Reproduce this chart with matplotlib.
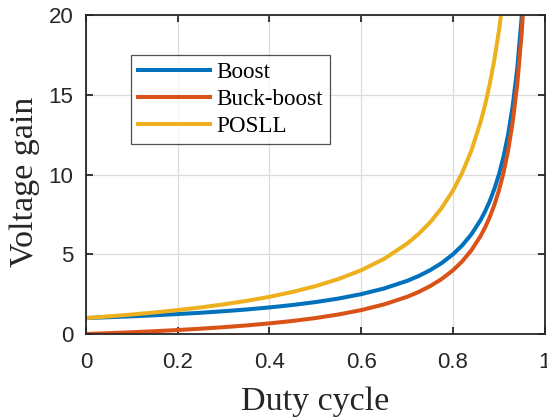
import matplotlib
matplotlib.use("Agg")
import matplotlib.pyplot as plt

# Duty cycle samples and gains
duty = [0, 0.05, 0.1, 0.15, 0.2, 0.25, 0.3, 0.35, 0.4, 0.45, 0.5, 0.55, 0.6,
        0.65, 0.7, 0.725, 0.75, 0.775, 0.8, 0.82, 0.84, 0.86, 0.87, 0.88,
        0.89, 0.9, 0.91, 0.92, 0.93, 0.94, 0.95, 0.96]
boost = [1.0, 1.053, 1.111, 1.176, 1.25, 1.333, 1.429, 1.538, 1.667, 1.818,
         2.0, 2.222, 2.5, 2.857, 3.333, 3.636, 4.0, 4.444, 5.0, 5.556, 6.25,
         7.143, 7.692, 8.333, 9.091, 10.0, 11.11, 12.5, 14.29, 16.67, 20.0, 25.0]
buck_boost = [0.0, 0.053, 0.111, 0.176, 0.25, 0.333, 0.429, 0.538, 0.667,
              0.818, 1.0, 1.222, 1.5, 1.857, 2.333, 2.636, 3.0, 3.444, 4.0,
              4.556, 5.25, 6.143, 6.692, 7.333, 8.091, 9.0, 10.11, 11.5,
              13.29, 15.67, 19.0, 24.0]
posll = [1.0, 1.105, 1.222, 1.353, 1.5, 1.667, 1.857, 2.077, 2.333, 2.636,
         3.0, 3.444, 4.0, 4.714, 5.667, 6.273, 7.0, 7.889, 9.0, 10.11, 11.5,
         13.29, 14.38, 15.67, 17.18, 19.0, 21.22, 24.0, 27.57, 32.33, 39.0, 49.0]

series = [("Boost", boost, "#0072BD"),
          ("Buck-boost", buck_boost, "#D95319"),
          ("POSLL", posll, "#EDB120")]

xticks = [0, 0.2, 0.4, 0.6, 0.8, 1]
xtick_labels = ["0", "0.2", "0.4", "0.6", "0.8", "1"]
yticks = [0, 5, 10, 15, 20]

fig = plt.figure(figsize=(5.47, 4.17), dpi=100)
ax = fig.add_axes([0.157, 0.199, 0.839, 0.765])

for name, vals, col in series:
    ax.plot(duty, vals, color=col, lw=2.9, label=name, solid_joinstyle="round")

ax.set_xlim(0, 1)
ax.set_ylim(0, 20)
ax.set_xticks(xticks)
ax.set_xticklabels(xtick_labels)
ax.set_yticks(yticks)
ax.grid(True, color="#dcdcdc", lw=0.9)
ax.set_axisbelow(True)

for sp in ax.spines.values():
    sp.set_color("#262626")
    sp.set_linewidth(1.3)
ax.tick_params(direction="in", length=5, width=1.3, color="#262626",
               top=True, right=True, labelsize=16, labelcolor="#262626")
ax.tick_params(axis="x", pad=13)
ax.tick_params(axis="y", pad=9)
for lab in ax.get_xticklabels() + ax.get_yticklabels():
    lab.set_family("Liberation Sans")

ax.set_xlabel("Duty cycle", family="Liberation Serif", fontsize=24.5,
              color="#262626", labelpad=10)
ax.set_ylabel("Voltage gain", family="Liberation Serif", fontsize=24.5,
              color="#262626")
ax.yaxis.set_label_coords(-0.1, 0.478)

leg = ax.legend(loc="upper left", bbox_to_anchor=(0.098, 0.875),
                prop={"family": "Liberation Serif", "size": 16.7},
                frameon=True, fancybox=False, edgecolor="#262626",
                handlelength=3.1, handletextpad=0.3, labelspacing=0.25,
                borderpad=0.3, borderaxespad=0)
leg.get_frame().set_linewidth(0.9)

fig.savefig("out.png", dpi=100)
